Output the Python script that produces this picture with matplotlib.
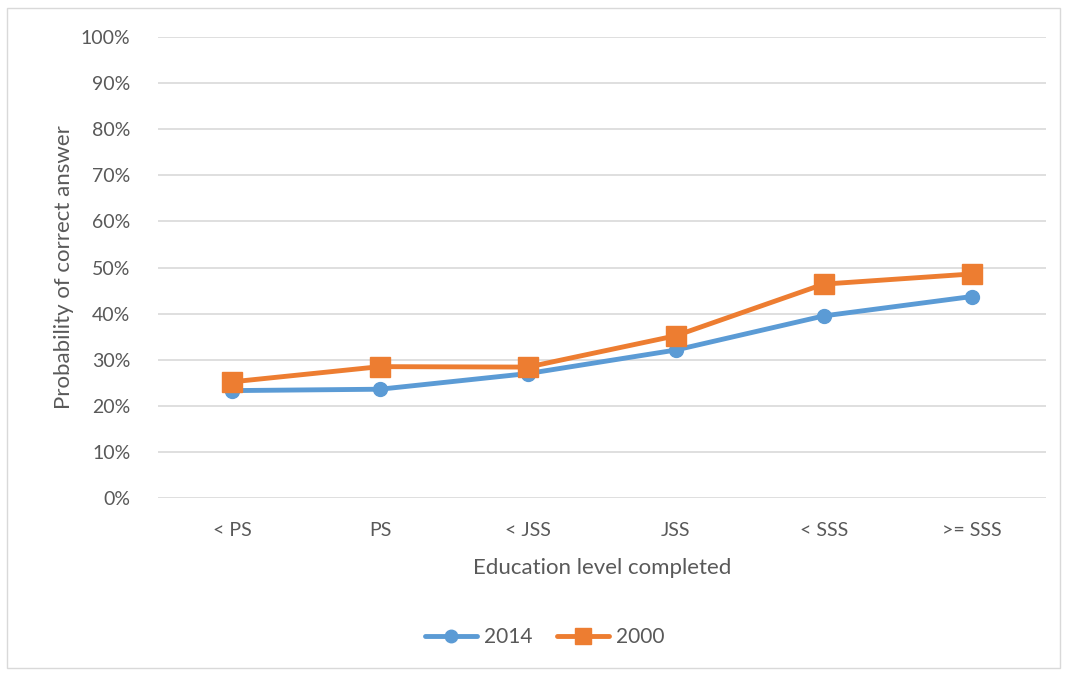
import matplotlib

matplotlib.use("Agg")
import matplotlib.pyplot as plt
from matplotlib.patches import Rectangle
from matplotlib.ticker import PercentFormatter

CATEGORIES = ["< PS", "PS", "< JSS", "JSS", "< SSS", ">= SSS"]
VALUES_2014 = [23.3, 23.6, 27.0, 32.1, 39.5, 43.7]
VALUES_2000 = [25.2, 28.5, 28.4, 35.2, 46.4, 48.6]

BLUE = "#5B9BD5"
ORANGE = "#ED7D31"
TEXT = "#595959"
GRID = "#D9D9D9"


def main():
    plt.rcParams["font.family"] = ["Lato", "DejaVu Sans"]

    fig = plt.figure(figsize=(10.68, 6.73), dpi=100)
    ax = fig.add_axes([0.148, 0.260, 0.831, 0.685])

    x = range(len(CATEGORIES))
    ax.plot(x, VALUES_2014, color=BLUE, lw=3.5, marker="o", ms=10,
            label="2014", solid_capstyle="round")
    ax.plot(x, VALUES_2000, color=ORANGE, lw=3.5, marker="s", ms=15,
            label="2000", solid_capstyle="round")

    ax.set_ylim(0, 100)
    ax.set_xlim(-0.5, len(CATEGORIES) - 0.5)
    ax.set_yticks(range(0, 101, 10))
    ax.yaxis.set_major_formatter(PercentFormatter(decimals=0))
    ax.set_xticks(list(x))
    ax.set_xticklabels(CATEGORIES)
    ax.tick_params(length=0, labelsize=14, colors=TEXT)
    ax.tick_params(axis="x", pad=17)
    ax.tick_params(axis="y", pad=20)
    ax.grid(axis="y", color=GRID, lw=1.2)
    ax.set_axisbelow(True)
    for s in ax.spines.values():
        s.set_visible(False)

    ax.set_xlabel("Education level completed", fontsize=16, color=TEXT, labelpad=14)
    ax.set_ylabel("Probability of correct answer", fontsize=16, color=TEXT, labelpad=5)

    leg = fig.legend(loc="center", bbox_to_anchor=(0.51, 0.053), ncol=2,
                     frameon=False, fontsize=15, handlelength=2.5,
                     columnspacing=1.2, handletextpad=0.3)
    leg.legend_handles[0].set_markersize(9)
    leg.legend_handles[1].set_markersize(11)
    for t in leg.get_texts():
        t.set_color(TEXT)

    fig.patches.append(Rectangle((7 / 1068, 5 / 673), 1053 / 1068, 660 / 673,
                                 transform=fig.transFigure, fill=False,
                                 edgecolor=GRID, lw=1.0))

    fig.savefig("out.png", dpi=100)


if __name__ == "__main__":
    main()
